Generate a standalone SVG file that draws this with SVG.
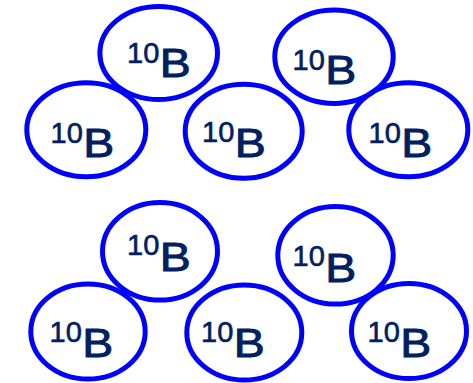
<svg xmlns="http://www.w3.org/2000/svg" width="473" height="383" viewBox="0 0 473 383">
<style>
.e{fill:none;stroke:#0000ff;stroke-width:5}
.s{font-family:"Liberation Sans",Arial,sans-serif;font-size:29px;fill:#002060;stroke:#002060;stroke-width:0.6}
.b{font-family:"Liberation Sans",Arial,sans-serif;font-size:40px;fill:#002060;stroke:#002060;stroke-width:0.9}
</style>
<rect width="473" height="383" fill="#ffffff"/>
<g id="n1"><ellipse class="e" cx="158.7" cy="53" rx="58.8" ry="46.5"/><text class="s" x="127" y="62.7">10</text><text class="b" x="159.8" y="77" textLength="31" lengthAdjust="spacingAndGlyphs">B</text></g>
<g id="n2"><ellipse class="e" cx="86.3" cy="129.7" rx="59.5" ry="47"/><text class="s" x="50.5" y="142.7">10</text><text class="b" x="83.2" y="157" textLength="31" lengthAdjust="spacingAndGlyphs">B</text></g>
<g id="n3"><ellipse class="e" cx="243.7" cy="131.2" rx="58.5" ry="47"/><text class="s" x="202" y="142">10</text><text class="b" x="234.8" y="156.5" textLength="31" lengthAdjust="spacingAndGlyphs">B</text></g>
<g id="n4"><ellipse class="e" cx="334" cy="56.7" rx="59.2" ry="46.8"/><text class="s" x="292.5" y="70">10</text><text class="b" x="325.2" y="83.5" textLength="31" lengthAdjust="spacingAndGlyphs">B</text></g>
<g id="n5"><ellipse class="e" cx="408.3" cy="129.7" rx="59.5" ry="47"/><text class="s" x="368.5" y="142.7">10</text><text class="b" x="401.2" y="157" textLength="31" lengthAdjust="spacingAndGlyphs">B</text></g>
<g id="n6"><ellipse class="e" cx="160" cy="251.3" rx="57.5" ry="48.8"/><text class="s" x="127" y="255">10</text><text class="b" x="159.8" y="270.5" textLength="31" lengthAdjust="spacingAndGlyphs">B</text></g>
<g id="n7"><ellipse class="e" cx="88" cy="331.5" rx="57.2" ry="47.5"/><text class="s" x="49.5" y="341.5">10</text><text class="b" x="82.2" y="356.5" textLength="31" lengthAdjust="spacingAndGlyphs">B</text></g>
<g id="n8"><ellipse class="e" cx="244.3" cy="332.5" rx="57.5" ry="47.5"/><text class="s" x="201" y="341.7">10</text><text class="b" x="233.7" y="357" textLength="31" lengthAdjust="spacingAndGlyphs">B</text></g>
<g id="n9"><ellipse class="e" cx="335.5" cy="255.3" rx="57.7" ry="48.8"/><text class="s" x="292.5" y="266">10</text><text class="b" x="325.2" y="281.5" textLength="31" lengthAdjust="spacingAndGlyphs">B</text></g>
<g id="n10"><ellipse class="e" cx="409" cy="331" rx="57.5" ry="47.5"/><text class="s" x="367.5" y="341.7">10</text><text class="b" x="400.2" y="356.5" textLength="31" lengthAdjust="spacingAndGlyphs">B</text></g>
<g id="connectors"></g>
</svg>
